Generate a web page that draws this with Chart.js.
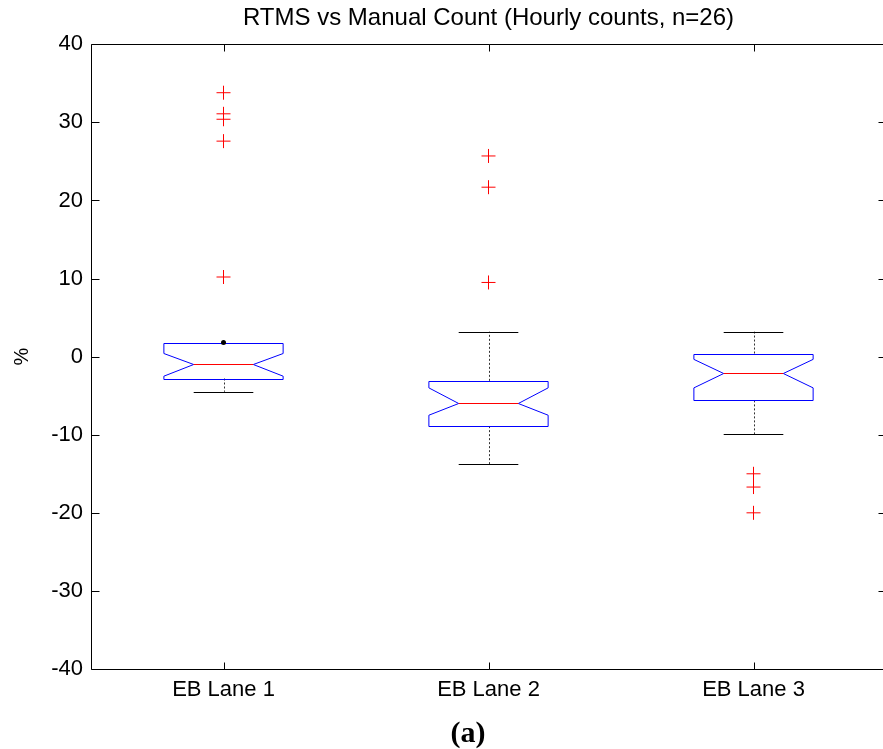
<!DOCTYPE html>
<html>
<head>
<meta charset="utf-8">
<title>RTMS vs Manual Count</title>
<script src="https://cdn.jsdelivr.net/npm/chart.js@4.4.1/dist/chart.umd.min.js"></script>
<style>
  html, body { margin: 0; padding: 0; background: #fff; overflow: hidden; }
  #wrap { position: relative; width: 900px; height: 749px; }
  #caption {
    position: absolute; left: 468px; top: 732px;
    transform: translate(-50%, -50%);
    font: bold 30px "Liberation Serif", "Times New Roman", serif;
    color: #000;
  }
</style>
</head>
<body>
<div id="wrap">
  <canvas id="chart" width="900" height="749"></canvas>
  <div id="caption">(a)</div>
</div>
<script>
/* ── Data: error % per lane (hourly counts, n=26) ─────────── */
const CATEGORIES   = ['EB Lane 1', 'EB Lane 2', 'EB Lane 3'];
const WHISKER_LOW  = [-4.5, -13.8, -9.9];
const Q1           = [-2.8,  -8.9, -5.6];
const MEDIAN       = [-1.0,  -5.9, -2.1];
const Q3           = [ 1.8,  -3.1,  0.4];
const WHISKER_HIGH = [ 1.8,   3.2,  3.2];
const NOTCH_LOW    = [-2.5,  -7.5, -4.0];
const NOTCH_HIGH   = [ 0.4,  -4.0, -0.35];
const OUTLIERS     = [
  [33.8, 31.1, 30.4, 27.6, 10.2],
  [25.7, 21.7, 9.5],
  [-15.0, -16.7, -20.0],
];
const Y_TICKS = [-40, -30, -20, -10, 0, 10, 20, 30, 40];

/* ── Style ─────────────────────────────────────────────── */
const BOX_HALF   = 0.225;   // half box width, in category units
const FONT       = '"Liberation Sans", Arial, Helvetica, sans-serif';
const TICK_IN    = { y: 8, x: 7 };

const crisp = v => Math.round(v) + 0.5;

// outlier points placed on their lane's x position
const outlierPoints = OUTLIERS.flatMap((vals, i) => vals.map(v => ({ x: i + 1, y: v })));

/* ── Notched boxes, whiskers, caps ───────────────────────── */
const notchedBoxes = {
  id: 'notchedBoxes',
  beforeDatasetsDraw(chart) {
    const { ctx, scales: { x, y } } = chart;
    ctx.save();
    CATEGORIES.forEach((_, i) => {
      const cx   = x.getPixelForValue(i + 1);
      const w    = x.getPixelForValue(i + 1 + BOX_HALF) - cx;
      const cap  = w / 2;
      const py   = v => y.getPixelForValue(v);

      // whiskers (dashed)
      ctx.strokeStyle = '#333';
      ctx.lineWidth = 1;
      ctx.setLineDash([2, 2]);
      ctx.beginPath();
      ctx.moveTo(crisp(cx), py(Q3[i]));         ctx.lineTo(crisp(cx), py(WHISKER_HIGH[i]));
      ctx.moveTo(crisp(cx), py(Q1[i]));         ctx.lineTo(crisp(cx), py(WHISKER_LOW[i]));
      ctx.stroke();
      ctx.setLineDash([]);

      // caps
      ctx.strokeStyle = '#000';
      ctx.beginPath();
      [WHISKER_HIGH[i], WHISKER_LOW[i]].forEach((v, k) => {
        if (v === (k === 0 ? Q3[i] : Q1[i])) return;
        ctx.moveTo(cx - cap, crisp(py(v)));
        ctx.lineTo(cx + cap, crisp(py(v)));
      });
      ctx.stroke();

      // notched box outline
      const l = cx - w, r = cx + w;
      ctx.strokeStyle = '#0000ff';
      ctx.beginPath();
      ctx.moveTo(l, crisp(py(Q1[i])));
      ctx.lineTo(l, py(NOTCH_LOW[i]));
      ctx.lineTo(cx - w / 2, crisp(py(MEDIAN[i])));
      ctx.lineTo(l, py(NOTCH_HIGH[i]));
      ctx.lineTo(l, crisp(py(Q3[i])));
      ctx.lineTo(r, crisp(py(Q3[i])));
      ctx.lineTo(r, py(NOTCH_HIGH[i]));
      ctx.lineTo(cx + w / 2, crisp(py(MEDIAN[i])));
      ctx.lineTo(r, py(NOTCH_LOW[i]));
      ctx.lineTo(r, crisp(py(Q1[i])));
      ctx.closePath();
      ctx.stroke();

      // median
      ctx.strokeStyle = '#ff0000';
      ctx.beginPath();
      ctx.moveTo(cx - w / 2, crisp(py(MEDIAN[i])));
      ctx.lineTo(cx + w / 2, crisp(py(MEDIAN[i])));
      ctx.stroke();

      // zero-length upper whisker shows as a dot
      if (WHISKER_HIGH[i] === Q3[i]) {
        ctx.fillStyle = '#000';
        ctx.beginPath();
        ctx.arc(cx, py(WHISKER_HIGH[i]), 2.5, 0, Math.PI * 2);
        ctx.fill();
      }
    });
    ctx.restore();
  },
};

/* ── Axes frame (top, left, bottom) with inward tick marks ─ */
const axesFrame = {
  id: 'axesFrame',
  afterDraw(chart) {
    const { ctx, chartArea: a, scales: { x, y } } = chart;
    ctx.save();
    ctx.strokeStyle = '#000';
    ctx.lineWidth = 1;
    const L = crisp(a.left), R = crisp(a.right), T = crisp(a.top), B = crisp(a.bottom);

    ctx.beginPath();
    ctx.moveTo(a.right + 2, T); ctx.lineTo(L, T); ctx.lineTo(L, B); ctx.lineTo(a.right + 2, B);

    y.ticks.forEach(t => {
      const py = crisp(y.getPixelForValue(t.value));
      ctx.moveTo(L, py); ctx.lineTo(L + TICK_IN.y, py);
      ctx.moveTo(R, py); ctx.lineTo(R - TICK_IN.y, py);
    });
    x.ticks.forEach(t => {
      const px = crisp(x.getPixelForValue(t.value));
      ctx.moveTo(px, T); ctx.lineTo(px, T + TICK_IN.x);
      ctx.moveTo(px, B); ctx.lineTo(px, B - TICK_IN.x);
    });
    ctx.stroke();
    ctx.restore();
  },
};

new Chart(document.getElementById('chart'), {
  type: 'scatter',
  data: {
    datasets: [{
      label: 'Outliers',
      data: outlierPoints,
      pointStyle: 'cross',
      pointRadius: 7,
      pointHoverRadius: 7,
      borderColor: '#ff0000',
      backgroundColor: '#ff0000',
      borderWidth: 1,
    }],
  },
  options: {
    responsive: false,
    animation: false,
    devicePixelRatio: 1,
    layout: { padding: { left: 0, right: 14, top: 0, bottom: 0 } },
    plugins: {
      legend:  { display: false },
      tooltip: { enabled: false },
      title: {
        display: true,
        text: 'RTMS vs Manual Count (Hourly counts, n=26)',
        color: '#000',
        fullSize: false,
        font: { family: FONT, size: 24, weight: 'normal' },
        padding: { top: 3.5, bottom: 12 },
      },
    },
    scales: {
      x: {
        type: 'linear',
        min: 0.5,
        max: 3.5,
        afterBuildTicks: s => { s.ticks = CATEGORIES.map((_, i) => ({ value: i + 1 })); },
        afterFit: s => { s.height = 80; },
        grid:   { display: false, drawTicks: false },
        border: { display: false },
        ticks: {
          color: '#000',
          padding: 8,
          maxRotation: 0,
          font: { family: FONT, size: 22 },
          callback: v => CATEGORIES[v - 1] ?? '',
        },
      },
      y: {
        min: -40,
        max: 40,
        afterBuildTicks: s => { s.ticks = Y_TICKS.map(v => ({ value: v })); },
        afterFit: s => { s.width = 91; },
        grid:   { display: false, drawTicks: false },
        border: { display: false },
        ticks: {
          color: '#000',
          padding: 8,
          font: { family: FONT, size: 22 },
        },
        title: {
          display: true,
          text: '%',
          color: '#000',
          padding: { top: 10.5, bottom: 0 },
          font: { family: FONT, size: 20 },
        },
      },
    },
  },
  plugins: [notchedBoxes, axesFrame],
});
</script>
</body>
</html>
